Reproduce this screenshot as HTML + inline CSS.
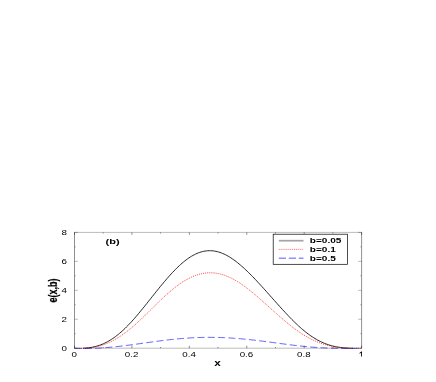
<!DOCTYPE html>
<html><head><meta charset="utf-8"><title>chart</title>
<style>
html,body{margin:0;padding:0;background:#fff;}
body{width:436px;height:382px;overflow:hidden;}
svg{display:block;font-family:"Liberation Sans",sans-serif;}
</style></head><body>
<svg width="436" height="382" viewBox="0 0 436 382">
<rect width="436" height="382" fill="#fff"/>
<g fill="none" stroke-linejoin="round">
<path d="M83.0,348.25 L84.4,348.18 L85.7,348.08 L87.1,347.96 L88.4,347.81 L89.8,347.63 L91.1,347.41 L92.5,347.16 L93.9,346.88 L95.2,346.55 L96.6,346.19 L97.9,345.79 L99.3,345.35 L100.6,344.86 L102.0,344.33 L103.4,343.76 L104.7,343.14 L106.1,342.47 L107.4,341.76 L108.8,341.00 L110.1,340.20 L111.5,339.35 L112.8,338.45 L114.2,337.51 L115.6,336.52 L116.9,335.48 L118.3,334.40 L119.6,333.28 L121.0,332.11 L122.3,330.90 L123.7,329.65 L125.1,328.35 L126.4,327.02 L127.8,325.65 L129.1,324.24 L130.5,322.80 L131.8,321.33 L133.2,319.82 L134.6,318.29 L135.9,316.72 L137.3,315.14 L138.6,313.53 L140.0,311.90 L141.3,310.25 L142.7,308.59 L144.1,306.91 L145.4,305.22 L146.8,303.53 L148.1,301.82 L149.5,300.11 L150.8,298.40 L152.2,296.69 L153.6,294.99 L154.9,293.28 L156.3,291.58 L157.6,289.90 L159.0,288.22 L160.3,286.55 L161.7,284.90 L163.1,283.26 L164.4,281.65 L165.8,280.05 L167.1,278.48 L168.5,276.93 L169.8,275.41 L171.2,273.92 L172.5,272.45 L173.9,271.02 L175.3,269.63 L176.6,268.27 L178.0,266.95 L179.3,265.67 L180.7,264.43 L182.0,263.23 L183.4,262.08 L184.8,260.98 L186.1,259.93 L187.5,258.93 L188.8,257.98 L190.2,257.08 L191.5,256.24 L192.9,255.46 L194.3,254.73 L195.6,254.06 L197.0,253.45 L198.3,252.90 L199.7,252.41 L201.0,251.98 L202.4,251.61 L203.8,251.30 L205.1,251.06 L206.5,250.88 L207.8,250.76 L209.2,250.70 L210.5,250.71 L211.9,250.78 L213.3,250.91 L214.6,251.10 L216.0,251.35 L217.3,251.66 L218.7,252.03 L220.0,252.46 L221.4,252.95 L222.7,253.49 L224.1,254.09 L225.5,254.74 L226.8,255.45 L228.2,256.20 L229.5,257.01 L230.9,257.86 L232.2,258.76 L233.6,259.71 L235.0,260.70 L236.3,261.72 L237.7,262.79 L239.0,263.90 L240.4,265.04 L241.7,266.21 L243.1,267.42 L244.5,268.65 L245.8,269.92 L247.2,271.21 L248.5,272.53 L249.9,273.87 L251.2,275.23 L252.6,276.62 L254.0,278.02 L255.3,279.45 L256.7,280.88 L258.0,282.34 L259.4,283.80 L260.7,285.28 L262.1,286.77 L263.5,288.27 L264.8,289.78 L266.2,291.29 L267.5,292.81 L268.9,294.33 L270.2,295.85 L271.6,297.38 L272.9,298.90 L274.3,300.42 L275.7,301.95 L277.0,303.46 L278.4,304.98 L279.7,306.48 L281.1,307.98 L282.4,309.47 L283.8,310.95 L285.2,312.42 L286.5,313.87 L287.9,315.31 L289.2,316.73 L290.6,318.13 L291.9,319.51 L293.3,320.88 L294.7,322.22 L296.0,323.53 L297.4,324.82 L298.7,326.08 L300.1,327.31 L301.4,328.51 L302.8,329.68 L304.2,330.81 L305.5,331.91 L306.9,332.97 L308.2,334.00 L309.6,334.99 L310.9,335.94 L312.3,336.85 L313.7,337.72 L315.0,338.56 L316.4,339.35 L317.7,340.11 L319.1,340.83 L320.4,341.51 L321.8,342.15 L323.2,342.75 L324.5,343.32 L325.9,343.85 L327.2,344.35 L328.6,344.81 L329.9,345.23 L331.3,345.62 L332.6,345.98 L334.0,346.31 L335.4,346.61 L336.7,346.88 L338.1,347.12 L339.4,347.34 L340.8,347.53 L342.1,347.69 L343.5,347.83 L344.9,347.96 L346.2,348.06 L347.6,348.14 L348.9,348.20 L350.3,348.25 L351.6,348.29 L353.0,348.31" stroke="#000" stroke-width="0.84"/>
<path d="M74.5,348.28 L75.9,348.34 L77.4,348.36 L78.8,348.36 L80.3,348.36 L81.7,348.36 L83.2,348.36 L84.6,348.31 L86.0,348.22 L87.5,348.11 L88.9,347.98 L90.4,347.81 L91.8,347.61 L93.3,347.38 L94.7,347.12 L96.1,346.82 L97.6,346.49 L99.0,346.12 L100.5,345.72 L101.9,345.27 L103.4,344.79 L104.8,344.28 L106.2,343.72 L107.7,343.12 L109.1,342.49 L110.6,341.81 L112.0,341.10 L113.5,340.35 L114.9,339.55 L116.3,338.72 L117.8,337.85 L119.2,336.95 L120.7,336.00 L122.1,335.02 L123.6,334.01 L125.0,332.96 L126.4,331.87 L127.9,330.75 L129.3,329.60 L130.8,328.42 L132.2,327.21 L133.7,325.97 L135.1,324.71 L136.5,323.42 L138.0,322.10 L139.4,320.77 L140.9,319.42 L142.3,318.04 L143.8,316.66 L145.2,315.26 L146.6,313.85 L148.1,312.43 L149.5,311.00 L151.0,309.57 L152.4,308.14 L153.8,306.71 L155.3,305.29 L156.7,303.87 L158.2,302.46 L159.6,301.07 L161.1,299.68 L162.5,298.31 L163.9,296.96 L165.4,295.64 L166.8,294.33 L168.3,293.05 L169.7,291.79 L171.2,290.56 L172.6,289.36 L174.0,288.19 L175.5,287.06 L176.9,285.96 L178.4,284.90 L179.8,283.87 L181.3,282.88 L182.7,281.94 L184.1,281.03 L185.6,280.17 L187.0,279.35 L188.5,278.57 L189.9,277.84 L191.4,277.16 L192.8,276.52 L194.2,275.94 L195.7,275.40 L197.1,274.91 L198.6,274.47 L200.0,274.08 L201.5,273.74 L202.9,273.45 L204.3,273.22 L205.8,273.03 L207.2,272.90 L208.7,272.82 L210.1,272.79 L211.6,272.81 L213.0,272.89 L214.4,273.01 L215.9,273.19 L217.3,273.42 L218.8,273.70 L220.2,274.03 L221.7,274.40 L223.1,274.83 L224.5,275.31 L226.0,275.83 L227.4,276.40 L228.9,277.01 L230.3,277.67 L231.8,278.37 L233.2,279.12 L234.6,279.91 L236.1,280.73 L237.5,281.60 L239.0,282.51 L240.4,283.45 L241.9,284.42 L243.3,285.43 L244.7,286.48 L246.2,287.55 L247.6,288.65 L249.1,289.77 L250.5,290.92 L252.0,292.10 L253.4,293.29 L254.8,294.50 L256.3,295.73 L257.7,296.98 L259.2,298.23 L260.6,299.50 L262.1,300.78 L263.5,302.06 L264.9,303.35 L266.4,304.64 L267.8,305.94 L269.3,307.24 L270.7,308.53 L272.2,309.82 L273.6,311.12 L275.0,312.40 L276.5,313.68 L277.9,314.95 L279.4,316.21 L280.8,317.47 L282.3,318.71 L283.7,319.94 L285.1,321.16 L286.6,322.36 L288.0,323.54 L289.5,324.71 L290.9,325.85 L292.3,326.98 L293.8,328.08 L295.2,329.15 L296.7,330.20 L298.1,331.23 L299.6,332.22 L301.0,333.19 L302.4,334.13 L303.9,335.03 L305.3,335.91 L306.8,336.75 L308.2,337.56 L309.7,338.34 L311.1,339.08 L312.5,339.79 L314.0,340.47 L315.4,341.12 L316.9,341.73 L318.3,342.31 L319.8,342.86 L321.2,343.37 L322.6,343.86 L324.1,344.31 L325.5,344.73 L327.0,345.13 L328.4,345.49 L329.9,345.83 L331.3,346.14 L332.7,346.43 L334.2,346.69 L335.6,346.93 L337.1,347.15 L338.5,347.34 L340.0,347.52 L341.4,347.67 L342.8,347.81 L344.3,347.93 L345.7,348.03 L347.2,348.12 L348.6,348.19 L350.1,348.25 L351.5,348.29 L352.9,348.32 L354.4,348.34 L355.8,348.35 L357.3,348.35 L358.7,348.34 L360.2,348.33 L361.6,348.30" stroke="#ff0000" stroke-width="0.7" stroke-dasharray="1.1 1.0"/>
<path d="M74.5,348.27 L75.9,348.32 L77.4,348.36 L78.8,348.36 L80.3,348.36 L81.7,348.36 L83.2,348.36 L84.6,348.36 L86.0,348.36 L87.5,348.36 L88.9,348.36 L90.4,348.36 L91.8,348.36 L93.3,348.32 L94.7,348.27 L96.1,348.20 L97.6,348.14 L99.0,348.06 L100.5,347.98 L101.9,347.89 L103.4,347.79 L104.8,347.69 L106.2,347.58 L107.7,347.46 L109.1,347.34 L110.6,347.21 L112.0,347.08 L113.5,346.94 L114.9,346.79 L116.3,346.64 L117.8,346.49 L119.2,346.33 L120.7,346.16 L122.1,345.99 L123.6,345.82 L125.0,345.64 L126.4,345.46 L127.9,345.28 L129.3,345.09 L130.8,344.90 L132.2,344.71 L133.7,344.51 L135.1,344.32 L136.5,344.12 L138.0,343.92 L139.4,343.72 L140.9,343.52 L142.3,343.31 L143.8,343.11 L145.2,342.91 L146.6,342.70 L148.1,342.50 L149.5,342.30 L151.0,342.10 L152.4,341.90 L153.8,341.70 L155.3,341.51 L156.7,341.32 L158.2,341.13 L159.6,340.94 L161.1,340.75 L162.5,340.57 L163.9,340.39 L165.4,340.22 L166.8,340.05 L168.3,339.88 L169.7,339.71 L171.2,339.56 L172.6,339.40 L174.0,339.25 L175.5,339.11 L176.9,338.97 L178.4,338.83 L179.8,338.70 L181.3,338.58 L182.7,338.46 L184.1,338.34 L185.6,338.24 L187.0,338.13 L188.5,338.04 L189.9,337.95 L191.4,337.87 L192.8,337.79 L194.2,337.72 L195.7,337.65 L197.1,337.59 L198.6,337.54 L200.0,337.49 L201.5,337.45 L202.9,337.42 L204.3,337.39 L205.8,337.37 L207.2,337.36 L208.7,337.35 L210.1,337.35 L211.6,337.36 L213.0,337.37 L214.4,337.39 L215.9,337.41 L217.3,337.45 L218.8,337.48 L220.2,337.53 L221.7,337.58 L223.1,337.63 L224.5,337.70 L226.0,337.76 L227.4,337.84 L228.9,337.92 L230.3,338.00 L231.8,338.10 L233.2,338.19 L234.6,338.30 L236.1,338.40 L237.5,338.52 L239.0,338.64 L240.4,338.76 L241.9,338.89 L243.3,339.02 L244.7,339.16 L246.2,339.30 L247.6,339.45 L249.1,339.60 L250.5,339.75 L252.0,339.91 L253.4,340.07 L254.8,340.24 L256.3,340.40 L257.7,340.58 L259.2,340.75 L260.6,340.93 L262.1,341.11 L263.5,341.29 L264.9,341.48 L266.4,341.66 L267.8,341.85 L269.3,342.04 L270.7,342.23 L272.2,342.42 L273.6,342.62 L275.0,342.81 L276.5,343.00 L277.9,343.20 L279.4,343.39 L280.8,343.58 L282.3,343.77 L283.7,343.96 L285.1,344.15 L286.6,344.34 L288.0,344.53 L289.5,344.71 L290.9,344.89 L292.3,345.07 L293.8,345.25 L295.2,345.42 L296.7,345.59 L298.1,345.75 L299.6,345.91 L301.0,346.07 L302.4,346.22 L303.9,346.37 L305.3,346.51 L306.8,346.65 L308.2,346.78 L309.7,346.91 L311.1,347.03 L312.5,347.15 L314.0,347.26 L315.4,347.37 L316.9,347.47 L318.3,347.57 L319.8,347.66 L321.2,347.74 L322.6,347.82 L324.1,347.89 L325.5,347.96 L327.0,348.02 L328.4,348.08 L329.9,348.13 L331.3,348.18 L332.7,348.22 L334.2,348.26 L335.6,348.29 L337.1,348.32 L338.5,348.34 L340.0,348.36 L341.4,348.36 L342.8,348.36 L344.3,348.36 L345.7,348.36 L347.2,348.36 L348.6,348.36 L350.1,348.36 L351.5,348.36 L352.9,348.35 L354.4,348.34 L355.8,348.33 L357.3,348.31 L358.7,348.29 L360.2,348.27 L361.6,348.25" stroke="#2020ff" stroke-width="0.7" stroke-dasharray="7 3.3"/>
</g>
<g stroke="#000" stroke-width="0.27" fill="none">
<line x1="74.5" y1="348.20" x2="77.9" y2="348.20"/>
<line x1="361.6" y1="348.20" x2="358.20000000000005" y2="348.20"/>
<line x1="74.5" y1="333.72" x2="76.0" y2="333.72"/>
<line x1="361.6" y1="333.72" x2="360.1" y2="333.72"/>
<line x1="74.5" y1="319.25" x2="77.9" y2="319.25"/>
<line x1="361.6" y1="319.25" x2="358.20000000000005" y2="319.25"/>
<line x1="74.5" y1="304.77" x2="76.0" y2="304.77"/>
<line x1="361.6" y1="304.77" x2="360.1" y2="304.77"/>
<line x1="74.5" y1="290.30" x2="77.9" y2="290.30"/>
<line x1="361.6" y1="290.30" x2="358.20000000000005" y2="290.30"/>
<line x1="74.5" y1="275.82" x2="76.0" y2="275.82"/>
<line x1="361.6" y1="275.82" x2="360.1" y2="275.82"/>
<line x1="74.5" y1="261.35" x2="77.9" y2="261.35"/>
<line x1="361.6" y1="261.35" x2="358.20000000000005" y2="261.35"/>
<line x1="74.5" y1="246.88" x2="76.0" y2="246.88"/>
<line x1="361.6" y1="246.88" x2="360.1" y2="246.88"/>
<line x1="74.5" y1="232.40" x2="77.9" y2="232.40"/>
<line x1="361.6" y1="232.40" x2="358.20000000000005" y2="232.40"/>
<line x1="74.3" y1="348.2" x2="361.8" y2="348.2"/>
<line x1="74.3" y1="232.4" x2="361.8" y2="232.4"/>
</g>
<g stroke="#000" stroke-width="0.44" fill="none">
<line x1="74.50" y1="348.2" x2="74.50" y2="345.7"/>
<line x1="74.50" y1="232.4" x2="74.50" y2="234.9"/>
<line x1="103.21" y1="348.2" x2="103.21" y2="347.0"/>
<line x1="103.21" y1="232.4" x2="103.21" y2="233.6"/>
<line x1="131.92" y1="348.2" x2="131.92" y2="345.7"/>
<line x1="131.92" y1="232.4" x2="131.92" y2="234.9"/>
<line x1="160.63" y1="348.2" x2="160.63" y2="347.0"/>
<line x1="160.63" y1="232.4" x2="160.63" y2="233.6"/>
<line x1="189.34" y1="348.2" x2="189.34" y2="345.7"/>
<line x1="189.34" y1="232.4" x2="189.34" y2="234.9"/>
<line x1="218.05" y1="348.2" x2="218.05" y2="347.0"/>
<line x1="218.05" y1="232.4" x2="218.05" y2="233.6"/>
<line x1="246.76" y1="348.2" x2="246.76" y2="345.7"/>
<line x1="246.76" y1="232.4" x2="246.76" y2="234.9"/>
<line x1="275.47" y1="348.2" x2="275.47" y2="347.0"/>
<line x1="275.47" y1="232.4" x2="275.47" y2="233.6"/>
<line x1="304.18" y1="348.2" x2="304.18" y2="345.7"/>
<line x1="304.18" y1="232.4" x2="304.18" y2="234.9"/>
<line x1="332.89" y1="348.2" x2="332.89" y2="347.0"/>
<line x1="332.89" y1="232.4" x2="332.89" y2="233.6"/>
<line x1="361.60" y1="348.2" x2="361.60" y2="345.7"/>
<line x1="361.60" y1="232.4" x2="361.60" y2="234.9"/>
<line x1="74.5" y1="348.2" x2="74.5" y2="232.4"/>
<line x1="361.6" y1="348.2" x2="361.6" y2="232.4"/>
</g>
<rect x="273.2" y="234.2" width="74.4" height="30.1" fill="#fff" stroke="#000" stroke-width="0.7"/>
<line x1="278.8" y1="240.7" x2="303.5" y2="240.7" stroke="#a4a4a4" stroke-width="1.7"/>
<line x1="278.8" y1="249.4" x2="303.5" y2="249.4" stroke="#ff6060" stroke-width="0.9" stroke-dasharray="1 0.9"/>
<line x1="278.8" y1="258.2" x2="303.5" y2="258.2" stroke="#9090ff" stroke-width="1.4" stroke-dasharray="7.2 2.8"/>
<g fill="#000" style="filter:grayscale(1)">
<text transform="translate(74.2,356.6) scale(1.4,1)" font-size="7" text-anchor="middle">0</text>
<text transform="translate(131.62,356.6) scale(1.4,1)" font-size="7" text-anchor="middle">0.2</text>
<text transform="translate(189.04,356.6) scale(1.4,1)" font-size="7" text-anchor="middle">0.4</text>
<text transform="translate(246.46,356.6) scale(1.4,1)" font-size="7" text-anchor="middle">0.6</text>
<text transform="translate(303.88,356.6) scale(1.4,1)" font-size="7" text-anchor="middle">0.8</text>
<path d="M359.5,353.0 L361.2,351.5 L362.0,351.5 L362.0,356.6 L361.15,356.6 L361.15,352.7 L359.5,353.8 Z"/>
<text transform="translate(67.0,350.7) scale(1.4,1)" font-size="7" text-anchor="end">0</text>
<text transform="translate(67.0,321.75) scale(1.4,1)" font-size="7" text-anchor="end">2</text>
<text transform="translate(67.0,292.8) scale(1.4,1)" font-size="7" text-anchor="end">4</text>
<text transform="translate(67.0,263.85) scale(1.4,1)" font-size="7" text-anchor="end">6</text>
<text transform="translate(67.0,234.9) scale(1.4,1)" font-size="7" text-anchor="end">8</text>
<text transform="translate(217.4,365.8) scale(1.4,1)" font-size="8.4" text-anchor="middle" font-weight="bold">x</text>
<text transform="translate(105.6,243.6) scale(1.4,1)" font-size="7.9" text-anchor="start" font-weight="bold">(b)</text>
<text stroke="#000" stroke-width="0.18" transform="translate(56.9,290.4) rotate(-90) scale(1,1.4)" font-size="9" text-anchor="middle" font-weight="bold">e(x,b)</text>
<text transform="translate(309.8,243.2) scale(1.4,1)" font-size="7.2" text-anchor="start" font-weight="bold">b=0.05</text>
<text transform="translate(309.8,251.89999999999998) scale(1.4,1)" font-size="7.2" text-anchor="start" font-weight="bold">b=0.1</text>
<text transform="translate(309.8,260.59999999999997) scale(1.4,1)" font-size="7.2" text-anchor="start" font-weight="bold">b=0.5</text>
</g>
</svg>
</body></html>
